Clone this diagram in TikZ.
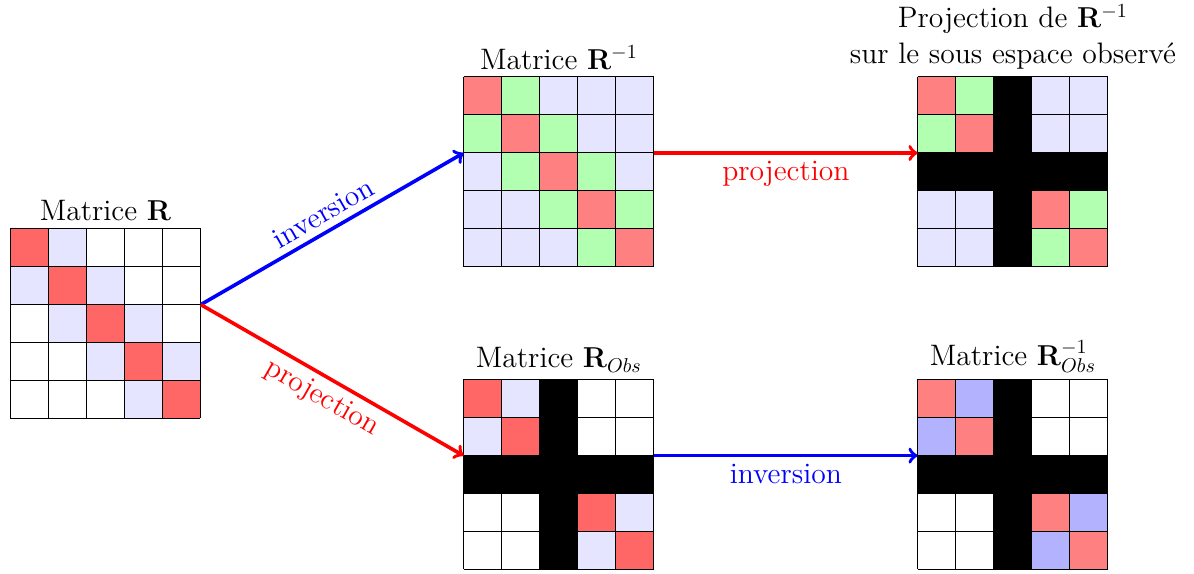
\documentclass[tikz,border=0pt]{standalone}
\usetikzlibrary{calc}
\begin{document}
\begin{tikzpicture}[x=0.5pt,y=-0.5pt,
  frame/.style={draw=none,inner sep=0pt,minimum width=95pt,minimum height=95pt,anchor=north west},
  gridline/.style={black,line width=0.4pt},
  bigfont/.style={font=\fontsize{14.8}{18}\selectfont},
  title/.style={bigfont,anchor=south,align=center},
  arrowlab/.style={bigfont},
  conn/.style={->,line width=1.8pt}]
\useasboundingbox (0,0) rectangle (1194,573);
\newcommand\mymat[4]{% x0, y0, name, list i/j/colour
  \node[frame] (#3) at (#1,#2) {};
  \foreach \i/\j/\c in {#4} {
    \fill[\c] ({#1+38*(\j-1)},{#2+38*(\i-1)}) rectangle ++(38,38);
  }
  \foreach \k in {0,...,5} {
    \draw[gridline] ({#1+38*\k},#2) -- ++(0,190);
    \draw[gridline] (#1,{#2+38*\k}) -- ++(190,0);
  }
}
\newcommand\blackcross[2]{%
  \fill[black] ({#1+76},#2) rectangle ++(38,190);
  \fill[black] (#1,{#2+76}) rectangle ++(190,38);
}
% Matrix R
\mymat{10}{228.3}{mR}{1/1/red!60,2/2/red!60,3/3/red!60,4/4/red!60,5/5/red!60,
  1/2/blue!10,2/1/blue!10,2/3/blue!10,3/2/blue!10,3/4/blue!10,4/3/blue!10,4/5/blue!10,5/4/blue!10}
% Matrix R^-1
\mymat{463.5}{76.7}{mRinv}{1/1/red!50,2/2/red!50,3/3/red!50,4/4/red!50,5/5/red!50,
  1/2/green!30,2/1/green!30,2/3/green!30,3/2/green!30,3/4/green!30,4/3/green!30,4/5/green!30,5/4/green!30,
  1/3/blue!10,1/4/blue!10,1/5/blue!10,2/4/blue!10,2/5/blue!10,3/1/blue!10,3/5/blue!10,
  4/1/blue!10,4/2/blue!10,5/1/blue!10,5/2/blue!10,5/3/blue!10}
% Projection of R^-1
\mymat{917.5}{76.7}{mProj}{1/1/red!50,2/2/red!50,4/4/red!50,5/5/red!50,
  1/2/green!30,2/1/green!30,4/5/green!30,5/4/green!30,
  1/4/blue!10,1/5/blue!10,2/4/blue!10,2/5/blue!10,4/1/blue!10,4/2/blue!10,5/1/blue!10,5/2/blue!10}
\blackcross{917.5}{76.7}
% R_Obs
\mymat{463.5}{379.3}{mRobs}{1/1/red!60,2/2/red!60,4/4/red!60,5/5/red!60,
  1/2/blue!10,2/1/blue!10,4/5/blue!10,5/4/blue!10}
\blackcross{463.5}{379.3}
% R_Obs^-1
\mymat{917.5}{379.3}{mRobsinv}{1/1/red!50,2/2/red!50,4/4/red!50,5/5/red!50,
  1/2/blue!30,2/1/blue!30,4/5/blue!30,5/4/blue!30}
\blackcross{917.5}{379.3}
% titles
\node[title] (tR) at (mR.north) {Matrice $\mathbf{R}$};
\node[title] (tRinv) at (mRinv.north) {Matrice $\mathbf{R}^{-1}$};
\node[title] (tProj) at (mProj.north) {Projection de $\mathbf{R}^{-1}$\\sur le sous espace observé};
\node[title] (tRobs) at (mRobs.north) {Matrice $\mathbf{R}_{Obs}$};
\node[title] (tRobsinv) at (mRobsinv.north) {Matrice $\mathbf{R}_{Obs}^{-1}$};
% connection points
\coordinate (Rout) at ($(mR.north east)!0.4!(mR.south east)$);
\coordinate (Rinvin) at ($(mRinv.north west)!0.4!(mRinv.south west)$);
\coordinate (Rinvout) at ($(mRinv.north east)!0.4!(mRinv.south east)$);
\coordinate (Projin) at ($(mProj.north west)!0.4!(mProj.south west)$);
\coordinate (Robsin) at ($(mRobs.north west)!0.4!(mRobs.south west)$);
\coordinate (Robsout) at ($(mRobs.north east)!0.4!(mRobs.south east)$);
\coordinate (Robsinvin) at ($(mRobsinv.north west)!0.4!(mRobsinv.south west)$);
% connectors
\draw[conn,blue] (Rout) -- node[arrowlab,sloped,above] {inversion} (Rinvin);
\draw[conn,red] (Rout) -- node[arrowlab,sloped,below] {projection} (Robsin);
\draw[conn,red] (Rinvout) -- node[arrowlab,below] {projection} (Projin);
\draw[conn,blue] (Robsout) -- node[arrowlab,below] {inversion} (Robsinvin);
\end{tikzpicture}
\end{document}
